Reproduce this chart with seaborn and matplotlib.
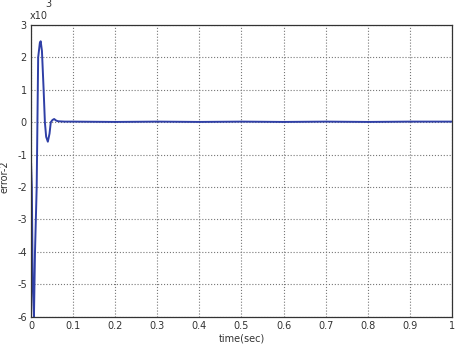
import matplotlib
matplotlib.use("Agg")
import matplotlib.pyplot as plt
import seaborn as sns
import pandas as pd

# ----------------------- Data (y in units of 1e-3)
time_sec = [0.0, 0.002, 0.004, 0.007, 0.0095, 0.0135, 0.017, 0.021, 0.023, 0.026,
            0.030, 0.033, 0.036, 0.040, 0.044, 0.047, 0.051, 0.055, 0.060, 0.065,
            0.08, 0.1, 0.2, 0.3, 0.4, 0.5, 0.6, 0.7, 0.8, 0.9, 1.0]
error2 = [-1.2, -2.0, -5.0, -6.0, -4.0, -2.0, 2.0, 2.45, 2.5, 2.2,
          1.0, 0.0, -0.45, -0.6, -0.35, 0.0, 0.07, 0.1, 0.05, 0.03,
          0.02, 0.02, 0.01, 0.02, 0.01, 0.02, 0.01, 0.02, 0.01, 0.02, 0.02]

x_ticks = [0, 0.1, 0.2, 0.3, 0.4, 0.5, 0.6, 0.7, 0.8, 0.9, 1]
x_tick_labels = ["0", "0.1", "0.2", "0.3", "0.4", "0.5", "0.6", "0.7", "0.8", "0.9", "1"]
y_ticks = [-6, -5, -4, -3, -2, -1, 0, 1, 2, 3]

df = pd.DataFrame({"time": time_sec, "error": error2})

# ----------------------- Style
sns.set_theme(style="white")
plt.rcParams["font.family"] = ["Liberation Sans Narrow", "DejaVu Sans"]
plt.rcParams["axes.unicode_minus"] = False

fig = plt.figure(figsize=(4.6, 3.53), dpi=100)
ax = fig.add_axes([0.0674, 0.103, 0.915, 0.826])

sns.lineplot(data=df, x="time", y="error", ax=ax, color="#2f3fa6", linewidth=1.4)

ax.set_xlim(0, 1)
ax.set_ylim(-6, 3)
ax.set_xticks(x_ticks)
ax.set_xticklabels(x_tick_labels)
ax.set_yticks(y_ticks)
ax.tick_params(direction="in", length=4, labelsize=7, colors="#333333", pad=3)

ax.grid(True, linestyle=":", color="#777777", linewidth=0.8)
for s in ax.spines.values():
    s.set_color("#333333")
    s.set_linewidth(0.9)

ax.set_xlabel("time(sec)", fontsize=7, labelpad=2, color="#333333")
ax.set_ylabel("error-2", fontsize=7, color="#333333")
ax.yaxis.set_label_coords(-0.052, 0.48)

fig.text(0.065, 0.945, "x10", fontsize=7, color="#333333")
fig.text(0.098, 0.98, "3", fontsize=7, color="#333333")

plt.savefig("out.png", dpi=100)
